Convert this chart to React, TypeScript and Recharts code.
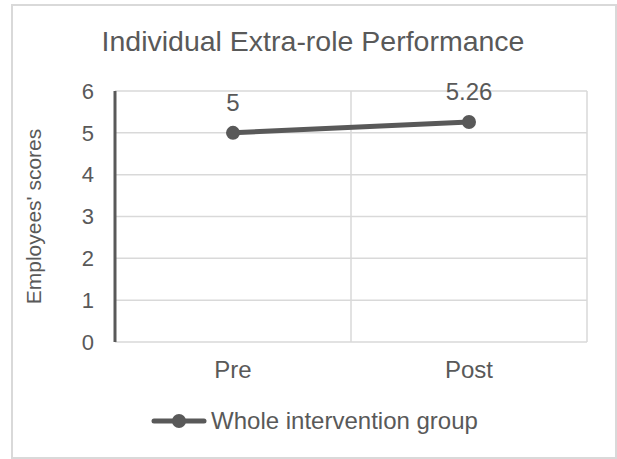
import { LineChart, Line, XAxis, YAxis, CartesianGrid, Legend, LabelList } from 'recharts';

// values
const phases = ['Pre', 'Post'];
const wholeGroupScores = [5, 5.26];
const yTicks = [0, 1, 2, 3, 4, 5, 6];
const seriesName = 'Whole intervention group';

const data = phases.map((phase, i) => ({ phase, score: wholeGroupScores[i] }));

const TEXT = '#595959';
const GRID = '#d9d9d9';
const FONT = '"Liberation Sans", Arial, sans-serif';
const W = 617;
const H = 459;
const PLOT_W = 472;

const renderLegend = () => (
  <div
    style={{
      display: 'flex',
      alignItems: 'center',
      justifyContent: 'center',
      height: 30,
      fontFamily: FONT,
      fontSize: 24,
      color: TEXT,
    }}
  >
    <svg width={56} height={16} style={{ marginRight: 4 }}>
      <line x1={3} y1={8} x2={53} y2={8} stroke={TEXT} strokeWidth={5} strokeLinecap="round" />
      <circle cx={28} cy={8} r={7} fill={TEXT} />
    </svg>
    <span>{seriesName}</span>
  </div>
);

const renderYLabel = (props: any) => {
  const { viewBox } = props;
  const x = viewBox.x - 14;
  const y = viewBox.y + viewBox.height / 2;
  return (
    <text
      x={x}
      y={y}
      transform={`rotate(-90, ${x}, ${y})`}
      textAnchor="middle"
      fill={TEXT}
      fontSize={21}
      fontFamily={FONT}
    >
      Employees' scores
    </text>
  );
};

export default function App() {
  return (
    <div style={{ position: 'absolute', left: 0, top: 0, width: W, height: H, background: '#fff' }}>
      {/* chart area border */}
      <div
        style={{
          position: 'absolute',
          left: 11,
          top: 4,
          width: 602,
          height: 451,
          border: `2px solid ${GRID}`,
        }}
      />
      <div
        style={{
          position: 'absolute',
          left: 11,
          width: 604,
          top: 25,
          textAlign: 'center',
          fontFamily: FONT,
          fontSize: 28.5,
          lineHeight: '32px',
          color: TEXT,
        }}
      >
        Individual Extra-role Performance
      </div>
      <div style={{ position: 'absolute', left: 0, top: 0 }}>
        <LineChart width={W} height={H} data={data} margin={{ top: 91, right: 30, left: 55, bottom: 77 }}>
          <CartesianGrid
            stroke={GRID}
            strokeWidth={1.5}
            verticalCoordinatesGenerator={({ offset }: any) => [
              offset.left + offset.width / 2,
              offset.left + offset.width,
            ]}
          />
          <XAxis
            dataKey="phase"
            height={40}
            axisLine={false}
            tickLine={false}
            tickMargin={13}
            interval={0}
            padding={{ left: PLOT_W / 4, right: PLOT_W / 4 }}
            tick={{ fontSize: 24, fill: TEXT, fontFamily: FONT }}
          />
          <YAxis
            width={60}
            domain={[0, 6]}
            ticks={yTicks}
            tickLine={false}
            tickMargin={15}
            axisLine={{ stroke: TEXT, strokeWidth: 3 }}
            tick={{ fontSize: 22, fill: TEXT, fontFamily: FONT }}
            label={renderYLabel}
          />
          <Legend
            verticalAlign="middle"
            align="center"
            layout="horizontal"
            content={renderLegend}
            wrapperStyle={{ top: 406, left: 6, width: W, height: 30 }}
          />
          <Line
            type="linear"
            dataKey="score"
            name={seriesName}
            stroke={TEXT}
            strokeWidth={5}
            dot={{ r: 6, fill: TEXT, stroke: TEXT, strokeWidth: 2 }}
            activeDot={false}
            isAnimationActive={false}
          >
            <LabelList
              dataKey="score"
              position="top"
              offset={22}
              fill={TEXT}
              fontSize={24}
              fontFamily={FONT}
            />
          </Line>
        </LineChart>
      </div>
    </div>
  );
}
